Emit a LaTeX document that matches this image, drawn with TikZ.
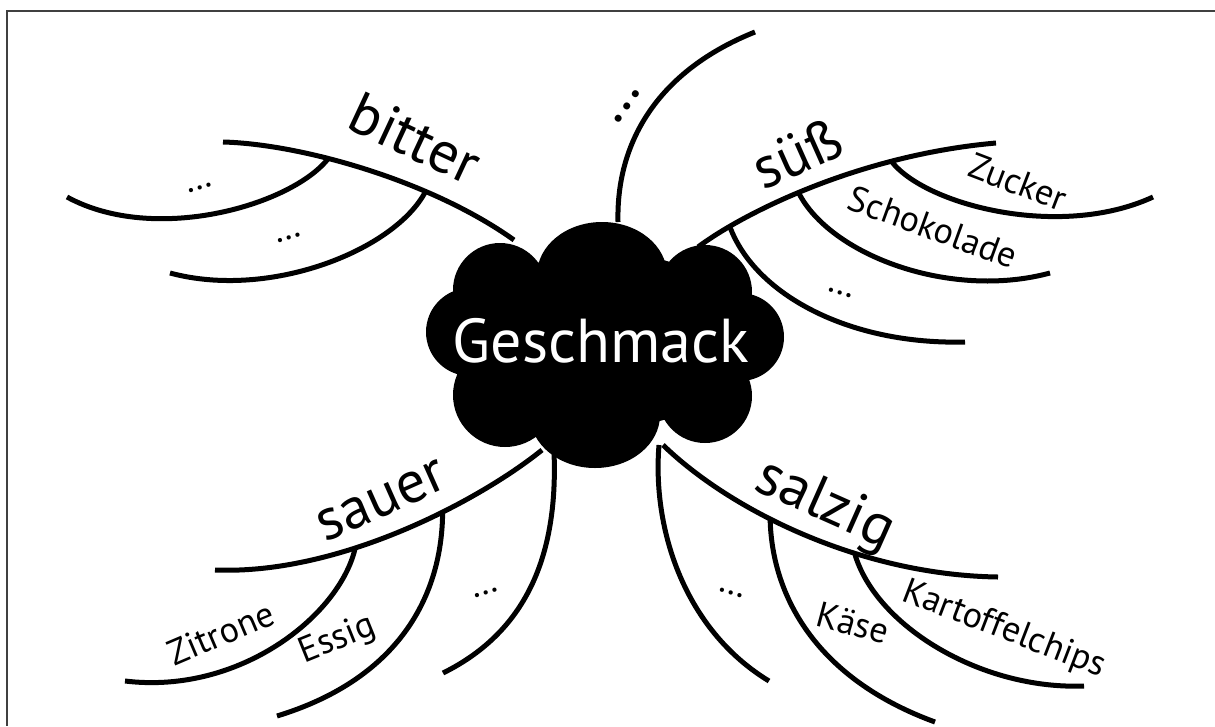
\documentclass[tikz,border=0pt]{standalone}
\usepackage{fontspec}
\setmainfont{PT Sans}
\begin{document}
\begin{tikzpicture}[x=1pt,y=-1pt,
  branch/.style={line width=5pt},
  toplabel/.style={font=\fontsize{59}{66}\selectfont, inner sep=0pt},
  leaflabel/.style={font=\fontsize{36}{42}\selectfont, inner sep=0pt},
  centerlabel/.style={font=\fontsize{62}{70}\selectfont, text=white, inner sep=0pt, anchor=base},
  frameline/.style={line width=1.5pt, black!75}]
\useasboundingbox (0,0) rectangle (1215,726);
\draw[frameline] (1215,11) -- (7,11) -- (7,726);

% roots on the rim of the cloud
\coordinate (bitterRoot) at (514,240);
\coordinate (topRoot)    at (618,222);
\coordinate (suessRoot)  at (698,247);
\coordinate (sauerRoot)  at (542,450);
\coordinate (sauerDots)  at (554,452);
\coordinate (salzRoot)   at (663,445);
\coordinate (salzDots)   at (659,445);

% free ends
\coordinate (bitterTip) at (223,142);
\coordinate (bLeafA)    at (67,197);
\coordinate (bLeafB)    at (170,273);
\coordinate (topTip)    at (755,32);
\coordinate (suessTip)  at (996,143);
\coordinate (sLeafZ)    at (1153,197);
\coordinate (sLeafS)    at (1050,273);
\coordinate (sLeafD)    at (965,342);
\coordinate (sauerTip)  at (215,570);
\coordinate (uLeafZ)    at (125,681);
\coordinate (uLeafE)    at (277,716);
\coordinate (uLeafD)    at (443,673);
\coordinate (salzTip)   at (998,577);
\coordinate (zLeafK)    at (935,722);
\coordinate (zLeafC)    at (1084,686);
\coordinate (zLeafD)    at (769,681);

% bitter
\draw[branch] (bitterTip) .. controls (300,144) and (430,180) .. (bitterRoot)
  coordinate[pos=0.38] (bJ1) coordinate[pos=0.69] (bJ2);
\draw[branch] (bJ1) .. controls (292,205) and (155,245) .. (bLeafA);
\draw[branch] (bJ2) .. controls (395,250) and (270,300) .. (bLeafB);

% upper open branch
\draw[branch] (topRoot) .. controls (616,140) and (660,70) .. (topTip);

% suess
\draw[branch] (suessRoot) .. controls (745,212) and (860,155) .. (suessTip)
  coordinate[pos=0.18] (sJ1) coordinate[pos=0.45] (sJ2) coordinate[pos=0.73] (sJ3);
\draw[branch] (sJ3) .. controls (925,205) and (1060,240) .. (sLeafZ);
\draw[branch] (sJ2) .. controls (830,255) and (950,300) .. (sLeafS);
\draw[branch] (sJ1) .. controls (755,295) and (850,345) .. (sLeafD);

% sauer
\draw[branch] (sauerRoot) .. controls (480,500) and (340,575) .. (sauerTip)
  coordinate[pos=0.38] (uJ1) coordinate[pos=0.63] (uJ2);
\draw[branch] (uJ2) .. controls (340,615) and (240,695) .. (uLeafZ);
\draw[branch] (uJ1) .. controls (442,600) and (395,680) .. (uLeafE);
\draw[branch] (sauerDots) .. controls (558,550) and (530,630) .. (uLeafD);

% salzig
\draw[branch] (salzRoot) .. controls (730,510) and (860,575) .. (salzTip)
  coordinate[pos=0.40] (zJ1) coordinate[pos=0.64] (zJ2);
\draw[branch] (zJ1) .. controls (772,600) and (820,680) .. (zLeafK);
\draw[branch] (zJ2) .. controls (875,625) and (980,690) .. (zLeafC);
\draw[branch] (salzDots) .. controls (652,530) and (685,630) .. (zLeafD);

% the cloud
\fill (500,290) circle[radius=47pt]
      (602,275) ellipse[x radius=65pt, y radius=53pt]
      (705,292) circle[radius=47pt]
      (470,332) circle[radius=44pt]
      (740,337) circle[radius=44pt]
      (505,395) circle[radius=52pt]
      (595,415) ellipse[x radius=65pt, y radius=53pt]
      (705,396) circle[radius=47pt]
      (605,340) ellipse[x radius=140pt, y radius=88pt];
\node[centerlabel] (gesch) at (601,362) {Geschmack};

% labels
\node[toplabel, rotate=-25] (lbitter) at (415,138) {bitter};
\node[leaflabel, rotate=17] (lbA) at (200,188) {…};
\node[leaflabel, rotate=17] (lbB) at (289,238) {…};
\node[toplabel, rotate=55] (ltop) at (627,107) {…};
\node[toplabel, rotate=24] (lsuess) at (797,153) {süß};
\node[leaflabel, rotate=-21] (lzucker) at (1018,182) {Zucker};
\node[leaflabel, rotate=-20] (lschoko) at (933,227) {Schokolade};
\node[leaflabel, rotate=-17] (lsD) at (840,293) {…};
\node[toplabel, rotate=24] (lsauer) at (382,501) {sauer};
\node[leaflabel, rotate=23] (lzitrone) at (221,633) {Zitrone};
\node[leaflabel, rotate=22] (lessig) at (338,640) {Essig};
\node[leaflabel, rotate=17] (luD) at (486,593) {…};
\node[toplabel, rotate=-24] (lsalzig) at (825,506) {salzig};
\node[leaflabel, rotate=-15] (lkaese) at (853,623) {Käse};
\node[leaflabel, rotate=-21] (lchips) at (1004,630) {Kartoffelchips};
\node[leaflabel, rotate=-17] (lzD) at (731,593) {…};
\end{tikzpicture}
\end{document}
